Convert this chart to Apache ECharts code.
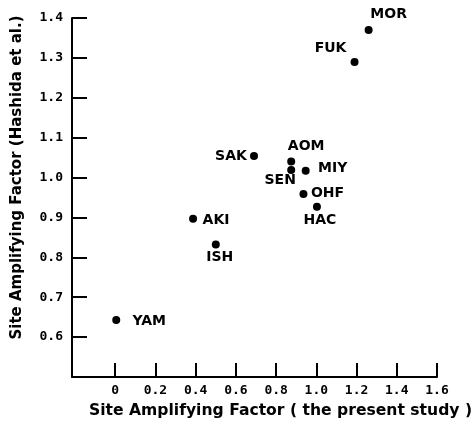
<!DOCTYPE html>
<html>
<head>
<meta charset="utf-8">
<script src="https://cdn.jsdelivr.net/npm/echarts@6/dist/echarts.min.js"></script>
<style>html,body{margin:0;padding:0;background:#fff;}#c{width:475px;height:425px;}</style>
</head>
<body>
<div id="c"></div>
<script>
const sites = ['MOR','FUK','SAK','AOM','SEN','MIY','OHF','HAC','AKI','ISH','YAM'];
const presentStudy = [1.26, 1.19, 0.69, 0.875, 0.875, 0.947, 0.936, 1.003, 0.387, 0.50, 0.005];
const hashida = [1.37, 1.29, 1.054, 1.04, 1.019, 1.017, 0.959, 0.927, 0.897, 0.832, 0.643];
const xTicks = [0, 0.2, 0.4, 0.6, 0.8, 1.0, 1.2, 1.4, 1.6];
const yTicks = [0.6, 0.7, 0.8, 0.9, 1.0, 1.1, 1.2, 1.3, 1.4];
const xTitle = 'Site Amplifying Factor ( the present study )';
const yTitle = 'Site Amplifying Factor (Hashida et al.)';

// label placement (style only)
const labelOffset = {
  MOR: [20, -16], FUK: [-24, -14], SAK: [-23, 0], AOM: [15, -15], SEN: [-11, 10],
  MIY: [27, -2], OHF: [24, -1], HAC: [3, 14], AKI: [23, 2], ISH: [4, 13], YAM: [33, 1]
};

const data = sites.map((s, i) => ({
  value: [presentStudy[i], hashida[i]],
  name: s,
  label: { show: true, position: 'inside', offset: labelOffset[s], formatter: s }
}));

const tickFont = { fontFamily: 'DejaVu Sans Mono', fontWeight: 'bold', fontSize: 13, color: '#000' };
const chart = echarts.init(document.getElementById('c'));
chart.setOption({
  animation: false,
  backgroundColor: '#fff',
  grid: { left: 72, right: 38, top: 18, bottom: 48, containLabel: false, outerBoundsMode: 'none' },
  xAxis: {
    type: 'value', min: -0.215, max: 1.6,
    name: xTitle, nameLocation: 'middle', nameGap: 26,
    nameTextStyle: { fontFamily: 'DejaVu Sans', fontWeight: 'bold', fontSize: 15.6, color: '#000', padding: [0, 0, 0, 52] },
    axisLine: { show: true, onZero: false, lineStyle: { color: '#000', width: 2 } },
    axisTick: { show: true, inside: true, length: 14, customValues: xTicks, lineStyle: { color: '#000', width: 2 } },
    axisLabel: { show: true, customValues: xTicks, margin: 7, formatter: v => v === 0 ? '0' : v.toFixed(1), ...tickFont },
    splitLine: { show: false }
  },
  yAxis: {
    type: 'value', min: 0.5, max: 1.4,
    name: yTitle, nameLocation: 'middle', nameGap: 47, nameRotate: 90,
    nameTextStyle: { fontFamily: 'DejaVu Sans', fontWeight: 'bold', fontSize: 15, color: '#000', padding: [0, 0, 0, 40] },
    axisLine: { show: true, onZero: false, lineStyle: { color: '#000', width: 2 } },
    axisTick: { show: true, inside: true, length: 15, customValues: yTicks, lineStyle: { color: '#000', width: 2 } },
    axisLabel: { show: true, customValues: yTicks, margin: 9, formatter: v => v.toFixed(1), ...tickFont },
    splitLine: { show: false }
  },
  series: [{
    type: 'scatter',
    symbol: 'circle',
    symbolSize: 8,
    itemStyle: { color: '#000', opacity: 1 },
    label: { fontFamily: 'DejaVu Sans', fontWeight: 'bold', fontSize: 14, color: '#000' },
    data: data
  }]
});
</script>
</body>
</html>
